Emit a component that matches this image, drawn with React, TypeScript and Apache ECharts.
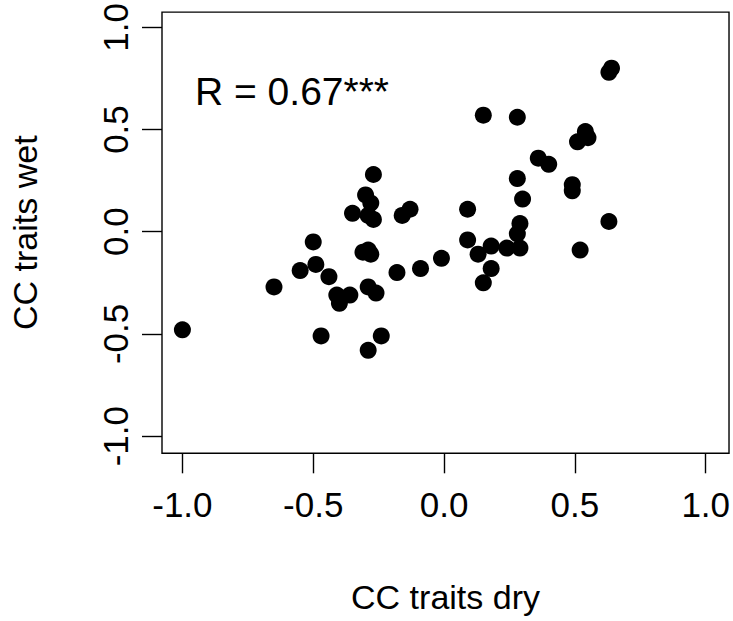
import React, { useEffect, useRef } from "react";
import * as echarts from "echarts";

const xDry = [
  -1.0, -0.65, -0.55, -0.5, -0.49, -0.44, -0.47, -0.41, -0.36, -0.4,
  -0.35, -0.3, -0.28, -0.27, -0.29, -0.27, -0.31, -0.28, -0.29, -0.29,
  -0.26, -0.24, -0.29, -0.16, -0.13, -0.18, -0.09, -0.01,
  0.63, 0.64, 0.15, 0.28, 0.54, 0.55, 0.51, 0.36, 0.4, 0.28,
  0.49, 0.49, 0.3, 0.09, 0.63, 0.29, 0.28, 0.09, 0.18, 0.24,
  0.29, 0.13, 0.52, 0.18, 0.15,
];
const yWet = [
  -0.48, -0.27, -0.19, -0.05, -0.16, -0.22, -0.51, -0.31, -0.31, -0.35,
  0.09, 0.18, 0.14, 0.28, 0.08, 0.06, -0.1, -0.11, -0.09, -0.27,
  -0.3, -0.51, -0.58, 0.08, 0.11, -0.2, -0.18, -0.13,
  0.78, 0.8, 0.57, 0.56, 0.49, 0.46, 0.44, 0.36, 0.33, 0.26,
  0.23, 0.2, 0.16, 0.11, 0.05, 0.04, -0.01, -0.04, -0.07, -0.08,
  -0.08, -0.11, -0.09, -0.18, -0.25,
];
const tickValues = [-1, -0.5, 0, 0.5, 1];
const xTitle = "CC traits dry";
const yTitle = "CC traits wet";
const annotation = "R = 0.67***";

const FONT = "'Liberation Sans', Arial, sans-serif";

export default function App() {
  const ref = useRef<HTMLDivElement>(null);
  useEffect(() => {
    if (!ref.current) return;
    const chart = echarts.init(ref.current, undefined, { renderer: "svg" });
    const points = xDry.map((x, i) => [x, yWet[i]]);
    chart.setOption({
      animation: false,
      backgroundColor: "#fff",
      grid: {
        left: 160.7,
        right: 3,
        top: 9.7,
        bottom: 167.7,
        show: true,
        borderColor: "#000",
        borderWidth: 1.4,
        backgroundColor: "transparent",
      },
      xAxis: {
        type: "value",
        min: -1.078,
        max: 1.089,
        splitLine: { show: false },
        axisLine: { show: false, onZero: false },
        axisTick: {
          show: true,
          length: 20,
          customValues: tickValues,
          lineStyle: { color: "#000", width: 1.4 },
        },
        axisLabel: {
          customValues: tickValues,
          formatter: (v: number) => v.toFixed(1),
          fontSize: 35,
          color: "#000",
          margin: 34,
          fontFamily: FONT,
        },
        name: xTitle,
        nameLocation: "middle",
        nameGap: 127,
        nameTextStyle: { fontSize: 34, color: "#000", fontFamily: FONT },
      },
      yAxis: {
        type: "value",
        min: -1.084,
        max: 1.0745,
        splitLine: { show: false },
        axisLine: { show: false, onZero: false },
        axisTick: {
          show: true,
          length: 20,
          customValues: tickValues,
          lineStyle: { color: "#000", width: 1.4 },
        },
        axisLabel: {
          customValues: tickValues,
          formatter: (v: number) => v.toFixed(1),
          fontSize: 35,
          color: "#000",
          margin: 29,
          rotate: 90,
          fontFamily: FONT,
        },
        name: yTitle,
        nameLocation: "middle",
        nameGap: 120,
        nameRotate: 90,
        nameTextStyle: { fontSize: 34, color: "#000", fontFamily: FONT },
      },
      graphic: [
        {
          type: "text",
          left: 195,
          top: 72,
          style: {
            text: annotation,
            fontSize: 39,
            fill: "#000",
            fontFamily: FONT,
          },
        },
      ],
      series: [
        {
          type: "scatter",
          data: points,
          symbol: "circle",
          symbolSize: 17,
          itemStyle: { color: "#000", opacity: 1 },
          emphasis: { disabled: true },
        },
      ],
    });
    return () => chart.dispose();
  }, []);
  return (
    <div
      ref={ref}
      style={{ position: "fixed", left: 0, top: 0, width: 733, height: 621 }}
    />
  );
}
